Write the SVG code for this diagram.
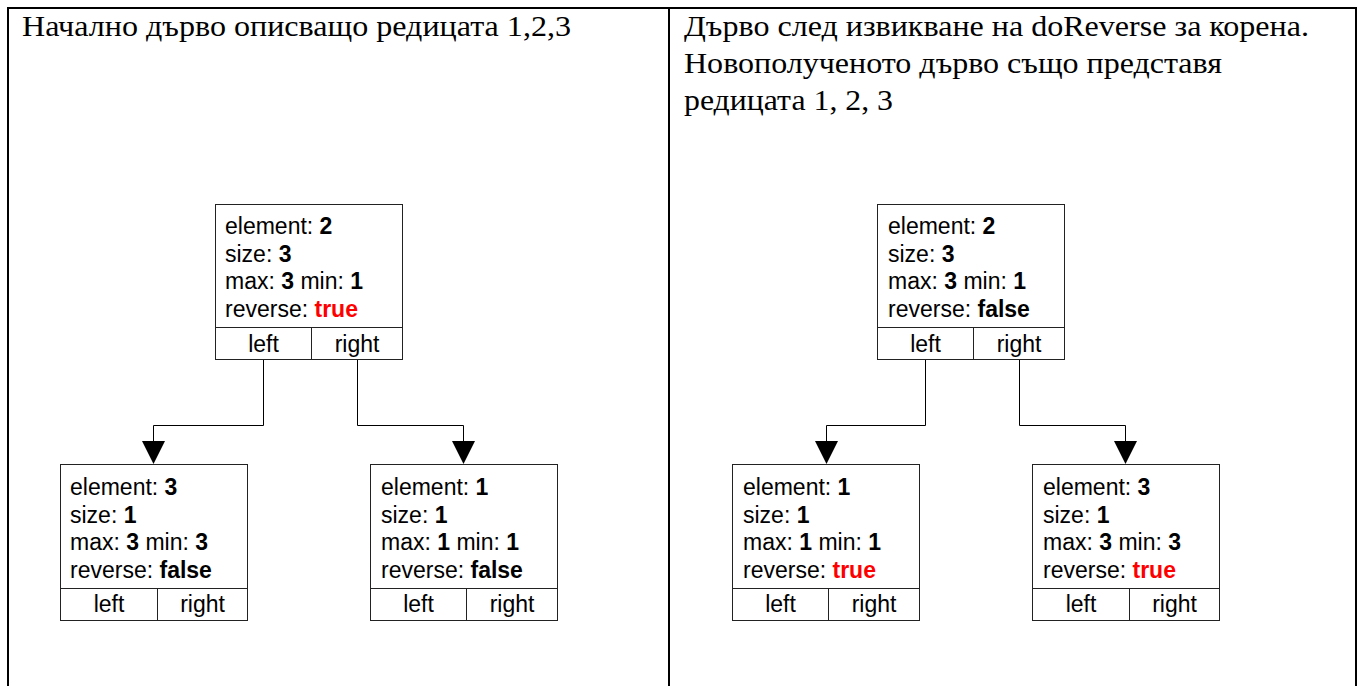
<svg xmlns="http://www.w3.org/2000/svg" width="1362" height="686" viewBox="0 0 1362 686">
<style>
.frame{fill:none;stroke:#000;stroke-width:2}
.box{fill:#fff;stroke:#222;stroke-width:1}
.t{font-family:"Liberation Sans",Arial,sans-serif;font-size:23px;fill:#000}
.b{font-weight:bold}
.r{font-weight:bold;fill:#ff0000}
.c{text-anchor:middle}
.title{font-family:"Liberation Serif","Times New Roman",serif;font-size:29px;fill:#000}
.conn{fill:none;stroke:#000;stroke-width:1}
</style>
<rect width="1362" height="686" fill="#fff"/>
<g id="frame">
<path class="frame" d="M8,686 V8 H1356 V686 M669,8 V686"/>
</g>
<g id="titles">
<text class="title" x="22" y="36" textLength="549" lengthAdjust="spacingAndGlyphs">Начално дърво описващо редицата 1,2,3</text>
<text class="title" x="684" y="36" textLength="625" lengthAdjust="spacingAndGlyphs">Дърво след извикване на doReverse за корена.</text>
<text class="title" x="684" y="73" textLength="538" lengthAdjust="spacingAndGlyphs">Новополученото дърво също представя</text>
<text class="title" x="684" y="110" textLength="209" lengthAdjust="spacingAndGlyphs">редицата 1, 2, 3</text>
</g>
<g id="connectors">
<path class="conn" d="M263.5,360 V425.5 H153.5 V441"/>
<path d="M142,441 L165,441 L153.5,464 Z"/>
<path class="conn" d="M357.5,360 V425.5 H463.5 V441"/>
<path d="M452,441 L475,441 L463.5,464 Z"/>
<path class="conn" d="M925.5,360 V425.5 H826.5 V441"/>
<path d="M815,441 L838,441 L826.5,464 Z"/>
<path class="conn" d="M1019.5,360 V425.5 H1125.5 V441"/>
<path d="M1114,441 L1137,441 L1125.5,464 Z"/>
</g>
<g id="n-left-root">
<rect class="box" x="215.5" y="204.5" width="187" height="155"/>
<path class="box" d="M215.5,327.5 H402.5 M311.5,327.5 V359.5"/>
<text class="t" x="225" y="234">element: <tspan class="b">2</tspan></text>
<text class="t" x="225" y="262">size: <tspan class="b">3</tspan></text>
<text class="t" x="225" y="289">max: <tspan class="b">3</tspan> min: <tspan class="b">1</tspan></text>
<text class="t" x="225" y="317">reverse: <tspan class="r">true</tspan></text>
<text class="t c" x="263.5" y="352">left</text>
<text class="t c" x="357" y="352">right</text>
</g>
<g id="n-left-l">
<rect class="box" x="60.5" y="464.5" width="187" height="156"/>
<path class="box" d="M60.5,588.5 H247.5 M157.5,588.5 V620.5"/>
<text class="t" x="70" y="495">element: <tspan class="b">3</tspan></text>
<text class="t" x="70" y="523">size: <tspan class="b">1</tspan></text>
<text class="t" x="70" y="550">max: <tspan class="b">3</tspan> min: <tspan class="b">3</tspan></text>
<text class="t" x="70" y="578">reverse: <tspan class="b">false</tspan></text>
<text class="t c" x="109" y="612">left</text>
<text class="t c" x="202.5" y="612">right</text>
</g>
<g id="n-left-r">
<rect class="box" x="370.5" y="464.5" width="187" height="156"/>
<path class="box" d="M370.5,588.5 H557.5 M466.5,588.5 V620.5"/>
<text class="t" x="381" y="495">element: <tspan class="b">1</tspan></text>
<text class="t" x="381" y="523">size: <tspan class="b">1</tspan></text>
<text class="t" x="381" y="550">max: <tspan class="b">1</tspan> min: <tspan class="b">1</tspan></text>
<text class="t" x="381" y="578">reverse: <tspan class="b">false</tspan></text>
<text class="t c" x="418.5" y="612">left</text>
<text class="t c" x="512" y="612">right</text>
</g>
<g id="n-right-root">
<rect class="box" x="877.5" y="204.5" width="187" height="155"/>
<path class="box" d="M877.5,327.5 H1064.5 M973.5,327.5 V359.5"/>
<text class="t" x="888" y="234">element: <tspan class="b">2</tspan></text>
<text class="t" x="888" y="262">size: <tspan class="b">3</tspan></text>
<text class="t" x="888" y="289">max: <tspan class="b">3</tspan> min: <tspan class="b">1</tspan></text>
<text class="t" x="888" y="317">reverse: <tspan class="b">false</tspan></text>
<text class="t c" x="925.5" y="352">left</text>
<text class="t c" x="1019" y="352">right</text>
</g>
<g id="n-right-l">
<rect class="box" x="732.5" y="464.5" width="187" height="156"/>
<path class="box" d="M732.5,588.5 H919.5 M828.5,588.5 V620.5"/>
<text class="t" x="743" y="495">element: <tspan class="b">1</tspan></text>
<text class="t" x="743" y="523">size: <tspan class="b">1</tspan></text>
<text class="t" x="743" y="550">max: <tspan class="b">1</tspan> min: <tspan class="b">1</tspan></text>
<text class="t" x="743" y="578">reverse: <tspan class="r">true</tspan></text>
<text class="t c" x="780.5" y="612">left</text>
<text class="t c" x="874" y="612">right</text>
</g>
<g id="n-right-r">
<rect class="box" x="1032.5" y="464.5" width="187" height="156"/>
<path class="box" d="M1032.5,588.5 H1219.5 M1129.5,588.5 V620.5"/>
<text class="t" x="1043" y="495">element: <tspan class="b">3</tspan></text>
<text class="t" x="1043" y="523">size: <tspan class="b">1</tspan></text>
<text class="t" x="1043" y="550">max: <tspan class="b">3</tspan> min: <tspan class="b">3</tspan></text>
<text class="t" x="1043" y="578">reverse: <tspan class="r">true</tspan></text>
<text class="t c" x="1081" y="612">left</text>
<text class="t c" x="1174.5" y="612">right</text>
</g>
</svg>
